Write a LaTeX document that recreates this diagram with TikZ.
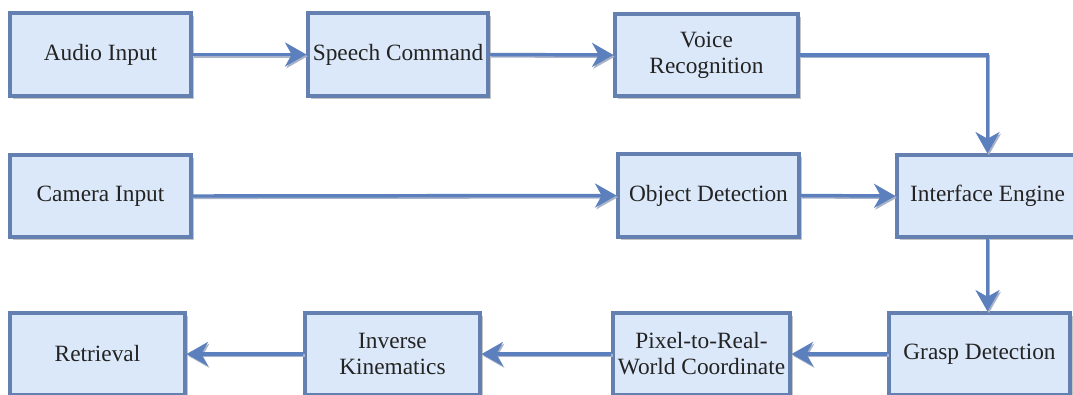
\documentclass[tikz,border=0pt]{standalone}
\usepackage{fontspec}
\setmainfont{Liberation Serif}
\newfontfamily\boxfont{Liberation Serif}
\usetikzlibrary{arrows.meta,shadows}
\definecolor{boxfill}{RGB}{219,232,249}
\definecolor{boxline}{RGB}{100,128,176}
\definecolor{arrowcol}{RGB}{92,128,190}
\definecolor{arrowshade}{RGB}{170,180,200}
\definecolor{txtcol}{RGB}{35,35,35}
\tikzset{
  blk/.style={draw=boxline, fill=boxfill, line width=2.4pt, align=center,
    text=txtcol, inner sep=0pt,
    font=\boxfont\fontsize{17.5}{19.5}\selectfont,
    drop shadow={shadow xshift=2pt, shadow yshift=-2pt, fill=black!45, opacity=0.5}},
  conn/.style={draw=arrowcol, line width=2.6pt,
    preaction={draw=arrowshade, line width=2pt, transform canvas={shift={(1pt,-1.3pt)}}},
    -{Stealth[length=16pt,width=18pt,inset=5pt]}},
}
\begin{document}
\begin{tikzpicture}[x=0.75pt,y=-0.75pt]
\useasboundingbox (0,0) rectangle (1073,394);
\clip (0,0) rectangle (1073,394);
\fill[white] (0,0) rectangle (1073,394);
% row 1
\node[blk, minimum width=181*0.75pt, minimum height=83*0.75pt] (audio) at (100.5,54.5) {Audio Input};
\node[blk, minimum width=180*0.75pt, minimum height=83*0.75pt] (speech) at (398,54.5) {Speech Command};
\node[blk, minimum width=183*0.75pt, minimum height=82*0.75pt] (voice) at (706.5,55) {Voice\\Recognition};
% row 2
\node[blk, minimum width=181*0.75pt, minimum height=82*0.75pt] (camera) at (100.5,196) {Camera Input};
\node[blk, minimum width=181*0.75pt, minimum height=83*0.75pt] (object) at (708.5,195.5) {Object Detection};
\node[blk, minimum width=181*0.75pt, minimum height=82*0.75pt] (interface) at (987.5,196) {Interface Engine};
% row 3
\node[blk, minimum width=175*0.75pt, minimum height=82*0.75pt] (retrieval) at (97.5,354) {Retrieval};
\node[blk, minimum width=175*0.75pt, minimum height=82*0.75pt] (inverse) at (392.5,354) {Inverse\\Kinematics};
\node[blk, minimum width=177*0.75pt, minimum height=82*0.75pt] (pixel) at (701.5,354) {Pixel-to-Real-\\World Coordinate};
\node[blk, minimum width=181*0.75pt, minimum height=82*0.75pt] (grasp) at (979.5,354) {Grasp Detection};
% connectors
\draw[conn] (audio.east) -- (speech.west);
\draw[conn] (speech.east) -- (voice.west);
\draw[conn] (voice.east) -| (interface.north);
\draw[conn] (camera.east) -- (object.west);
\draw[conn] (object.east) -- (interface.west);
\draw[conn] (interface.south) -- (interface.south |- grasp.north);
\draw[conn] (grasp.west) -- (pixel.east);
\draw[conn] (pixel.west) -- (inverse.east);
\draw[conn] (inverse.west) -- (retrieval.east);
\end{tikzpicture}
\end{document}
